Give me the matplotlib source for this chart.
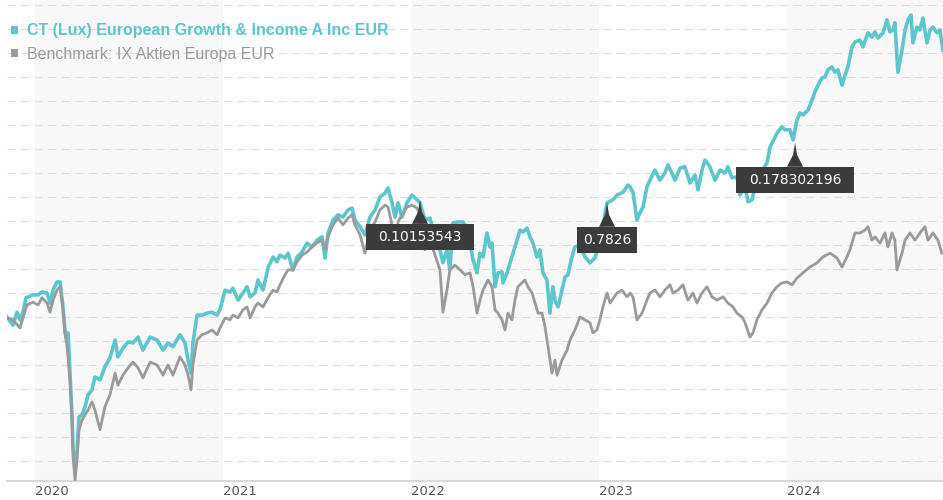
import matplotlib
matplotlib.use("Agg")
import matplotlib.pyplot as plt
import matplotlib.transforms as mtransforms
from matplotlib.patches import Rectangle, Polygon

# Fund vs benchmark, indexed (start = 100), decimal years on x
fund_years = [
    2019.851, 2019.883, 2019.904, 2019.920, 2019.936, 2019.952, 2019.989, 2020.016, 2020.037, 2020.064,
    2020.080, 2020.096, 2020.117, 2020.133, 2020.149, 2020.160, 2020.170, 2020.176, 2020.186, 2020.197,
    2020.202, 2020.213, 2020.223, 2020.234, 2020.250, 2020.266, 2020.282, 2020.303, 2020.319, 2020.346,
    2020.372, 2020.399, 2020.426, 2020.441, 2020.468, 2020.495, 2020.521, 2020.548, 2020.574,
    2020.612, 2020.649, 2020.681, 2020.707, 2020.734, 2020.771, 2020.798, 2020.814, 2020.830, 2020.840,
    2020.862, 2020.888, 2020.915, 2020.941, 2020.968, 2020.984, 2021.011, 2021.037, 2021.053, 2021.080,
    2021.106, 2021.128, 2021.144, 2021.170, 2021.186, 2021.213, 2021.239, 2021.266, 2021.287, 2021.303,
    2021.330, 2021.346, 2021.372, 2021.394, 2021.420, 2021.447, 2021.473,
    2021.500, 2021.527, 2021.543, 2021.559, 2021.585, 2021.612, 2021.638, 2021.665, 2021.686, 2021.702,
    2021.729, 2021.755, 2021.782, 2021.809, 2021.835, 2021.862, 2021.878, 2021.899, 2021.915, 2021.931,
    2021.952, 2021.979, 2022.005, 2022.032, 2022.048, 2022.074, 2022.101, 2022.128, 2022.154, 2022.170,
    2022.191, 2022.207, 2022.223, 2022.250, 2022.277, 2022.303,
    2022.330, 2022.351, 2022.367, 2022.383, 2022.404, 2022.420, 2022.431, 2022.447, 2022.463, 2022.484,
    2022.489, 2022.511, 2022.527, 2022.543, 2022.564, 2022.580, 2022.596, 2022.617, 2022.633, 2022.649,
    2022.670, 2022.686, 2022.702, 2022.723, 2022.739, 2022.755, 2022.766, 2022.782, 2022.803, 2022.819,
    2022.835, 2022.856, 2022.872, 2022.899, 2022.926, 2022.952, 2022.979, 2023.005, 2023.021, 2023.043,
    2023.074, 2023.096, 2023.128, 2023.154,
    2023.165, 2023.181, 2023.202, 2023.218, 2023.234, 2023.255, 2023.271, 2023.298, 2023.324, 2023.351,
    2023.367, 2023.388, 2023.404, 2023.431, 2023.457, 2023.484, 2023.511, 2023.527, 2023.548, 2023.564,
    2023.590, 2023.617, 2023.644, 2023.670, 2023.686, 2023.707, 2023.734, 2023.750, 2023.777, 2023.793,
    2023.814, 2023.830, 2023.856, 2023.894, 2023.910, 2023.947, 2023.973, 2023.989, 2024.016,
    2024.032, 2024.053, 2024.069, 2024.085, 2024.112, 2024.133, 2024.149, 2024.165, 2024.186, 2024.202,
    2024.218, 2024.239, 2024.255, 2024.271, 2024.293, 2024.309, 2024.324, 2024.346, 2024.362, 2024.388,
    2024.404, 2024.431, 2024.452, 2024.468, 2024.484, 2024.511, 2024.532, 2024.548, 2024.564, 2024.574,
    2024.590, 2024.612, 2024.628, 2024.644, 2024.660, 2024.670, 2024.691, 2024.707, 2024.723, 2024.745,
    2024.761, 2024.777, 2024.798, 2024.814, 2024.830,
]
fund_values = [
    100.0, 98.3, 101.0, 99.4, 101.0, 104.0, 104.6, 104.6, 105.2, 105.0,
    102.9, 105.6, 107.3, 107.3, 102.1, 96.9, 95.2, 96.7, 88.3, 79.2,
    72.9, 67.5, 71.7, 79.2, 79.6, 81.3, 83.8, 84.8, 87.5, 86.9,
    89.6, 91.5, 95.2, 91.7, 93.5, 94.8, 94.6, 95.8, 93.1,
    95.8, 95.2, 93.1, 94.6, 93.8, 96.3, 94.6, 91.0, 88.3, 94.6,
    100.4, 100.4, 100.8, 101.0, 100.4, 101.5, 105.6, 105.2, 106.0, 103.5,
    105.0, 106.3, 104.2, 105.0, 107.7, 105.6, 110.2, 112.5, 111.5, 112.9,
    112.3, 113.3, 109.8, 112.5, 113.5, 115.4, 114.6,
    116.0, 116.7, 112.3, 117.5, 120.2, 121.3, 120.8, 122.3, 122.7, 120.2,
    118.8, 117.1, 120.8, 122.3, 125.0, 125.8, 126.9, 123.8, 120.8, 123.8,
    120.8, 123.8, 125.4, 124.4, 123.8, 120.2, 120.6, 116.7, 114.0, 111.3,
    114.0, 109.8, 119.6, 119.8, 119.8, 118.1,
    111.9, 109.2, 113.3, 112.5, 117.5, 114.6, 115.4, 106.3, 109.2, 109.4,
    107.1, 109.2, 111.3, 113.3, 116.0, 118.1, 117.7, 118.5, 116.7, 115.4,
    112.5, 114.0, 109.2, 107.7, 100.8, 106.3, 103.5, 102.1, 105.6, 108.3,
    108.8, 112.5, 114.6, 115.0, 112.5, 111.3, 112.3, 116.0, 119.2, 123.8,
    124.4, 125.4, 126.0, 127.5,
    127.1, 126.0, 120.2, 121.7, 122.9, 127.1, 128.5, 130.6, 128.5, 130.0,
    131.7, 130.0, 128.5, 131.0, 131.3, 127.9, 129.6, 126.5, 130.6, 132.7,
    131.3, 128.5, 130.6, 130.0, 131.3, 129.0, 129.2, 125.4, 127.1, 124.0,
    124.4, 127.1, 129.6, 132.1, 135.4, 138.3, 139.6, 139.0, 139.0,
    136.9, 141.0, 142.5, 142.1, 143.1, 145.2, 146.9, 148.3, 149.8, 150.0,
    151.5, 152.1, 151.0, 151.5, 148.3, 150.4, 152.1, 156.3, 157.3, 157.7,
    156.3, 159.2, 158.3, 159.4, 158.1, 159.2, 161.9, 159.4, 159.8, 161.3,
    151.0, 155.6, 159.8, 161.9, 162.9, 157.1, 160.4, 159.8, 162.3, 157.1,
    159.8, 160.4, 159.2, 159.8, 155.6,
]

bench_years = [
    2019.851, 2019.883, 2019.920, 2019.936, 2019.957, 2019.989, 2020.016, 2020.037, 2020.064, 2020.080,
    2020.096, 2020.117, 2020.133, 2020.149, 2020.160, 2020.170, 2020.186, 2020.197, 2020.202, 2020.213,
    2020.223, 2020.234, 2020.250, 2020.266, 2020.282, 2020.303, 2020.319, 2020.346, 2020.372, 2020.399,
    2020.426, 2020.441, 2020.468, 2020.495, 2020.521, 2020.548, 2020.574,
    2020.612, 2020.649, 2020.681, 2020.707, 2020.734, 2020.771, 2020.798, 2020.814, 2020.830, 2020.840,
    2020.862, 2020.888, 2020.915, 2020.941, 2020.968, 2020.984, 2021.011, 2021.037, 2021.053, 2021.080,
    2021.106, 2021.128, 2021.144, 2021.170, 2021.186, 2021.213, 2021.239, 2021.266, 2021.287, 2021.303,
    2021.330, 2021.346, 2021.372, 2021.394, 2021.420, 2021.447, 2021.473,
    2021.500, 2021.527, 2021.543, 2021.559, 2021.585, 2021.612, 2021.638, 2021.665, 2021.686, 2021.702,
    2021.729, 2021.755, 2021.782, 2021.809, 2021.835, 2021.862, 2021.878, 2021.899, 2021.915, 2021.931,
    2021.952, 2021.979, 2022.005, 2022.032, 2022.048, 2022.074, 2022.101, 2022.128, 2022.154, 2022.170,
    2022.191, 2022.207, 2022.234, 2022.261, 2022.287,
    2022.314, 2022.330, 2022.351, 2022.367, 2022.383, 2022.410, 2022.431, 2022.447, 2022.463, 2022.484,
    2022.500, 2022.516, 2022.537, 2022.553, 2022.569, 2022.590, 2022.606, 2022.622, 2022.644, 2022.660,
    2022.676, 2022.697, 2022.713, 2022.729, 2022.750, 2022.766, 2022.777, 2022.803, 2022.830, 2022.846,
    2022.872, 2022.899, 2022.926, 2022.952, 2022.968, 2022.989, 2023.005, 2023.021, 2023.043, 2023.059,
    2023.096, 2023.122, 2023.149,
    2023.165, 2023.181, 2023.202, 2023.229, 2023.255, 2023.271, 2023.298, 2023.324, 2023.351, 2023.378,
    2023.394, 2023.420, 2023.447, 2023.473, 2023.500, 2023.521, 2023.548, 2023.574, 2023.601, 2023.628,
    2023.660, 2023.686, 2023.713, 2023.734, 2023.761, 2023.777, 2023.803, 2023.819, 2023.840, 2023.867,
    2023.894, 2023.920, 2023.947, 2023.973, 2024.000,
    2024.027, 2024.053, 2024.085, 2024.122, 2024.160, 2024.191, 2024.229, 2024.266, 2024.293, 2024.319,
    2024.335, 2024.362, 2024.388, 2024.415, 2024.431, 2024.452, 2024.468, 2024.495, 2024.521, 2024.537,
    2024.559, 2024.574, 2024.585, 2024.612, 2024.628, 2024.654, 2024.681, 2024.707, 2024.734, 2024.750,
    2024.777, 2024.803, 2024.824,
]
bench_values = [
    99.8, 99.4, 97.7, 99.8, 102.5, 103.1, 102.5, 104.0, 102.9, 101.0,
    103.5, 105.6, 106.3, 101.5, 96.3, 94.2, 86.9, 78.5, 71.3, 66.0,
    70.2, 76.5, 78.5, 79.6, 80.6, 82.3, 80.6, 76.5, 81.3, 83.8,
    88.3, 85.8, 87.9, 89.4, 90.6, 89.4, 87.3,
    90.6, 90.0, 87.9, 90.0, 87.9, 91.7, 90.0, 87.9, 84.8, 90.0,
    95.2, 96.3, 96.7, 97.3, 96.3, 97.7, 99.8, 99.4, 100.4, 99.8,
    101.5, 102.1, 99.8, 102.1, 102.9, 102.1, 104.0, 105.6, 105.2, 106.7,
    108.8, 109.8, 109.8, 111.5, 112.9, 113.5, 114.6,
    115.4, 116.0, 114.0, 116.7, 119.2, 120.6, 119.2, 120.6, 121.3, 119.2,
    117.1, 113.3, 118.1, 119.8, 122.3, 123.3, 122.9, 119.2, 115.0, 119.8,
    121.3, 122.9, 123.3, 122.7, 121.3, 114.0, 116.0, 112.9, 109.8, 101.0,
    105.6, 109.8, 110.8, 109.8, 108.8,
    109.2, 106.3, 100.8, 103.5, 105.6, 107.7, 106.3, 101.5, 100.8, 99.4,
    97.3, 100.8, 99.4, 103.5, 106.3, 107.1, 107.7, 106.3, 105.0, 102.9,
    100.8, 100.8, 97.9, 93.8, 88.3, 91.0, 87.9, 91.0, 93.1, 95.2,
    97.3, 100.0, 99.4, 98.8, 96.7, 97.3, 99.4, 102.1, 105.0, 102.9,
    105.0, 105.6, 104.2,
    105.0, 104.2, 99.4, 100.8, 103.5, 105.0, 105.6, 104.2, 105.6, 106.7,
    105.0, 105.6, 106.7, 103.5, 105.0, 102.9, 105.0, 106.3, 104.2, 103.5,
    104.2, 102.9, 102.1, 100.8, 100.0, 98.8, 95.8, 96.7, 99.4, 101.5,
    102.9, 105.0, 106.3, 107.1, 107.3,
    106.7, 108.1, 109.2, 110.4, 111.3, 112.5, 113.3, 112.3, 110.4, 112.5,
    114.0, 117.5, 117.5, 118.1, 118.8, 116.0, 116.7, 115.4, 117.5, 114.6,
    117.5, 116.0, 109.8, 113.3, 116.0, 117.5, 116.0, 117.5, 118.8, 116.0,
    117.5, 116.0, 113.3,
]

# flag labels pinned to the fund line
flag_years = [2022.048, 2023.043, 2024.043]
flag_values = [124.4, 123.8, 136.3]
flag_labels = ["0.10153543", "0.7826", "0.178302196"]

year_ticks = [2020, 2021, 2022, 2023, 2024]
shaded_years = [2020, 2022, 2024]

fund_name = "CT (Lux) European Growth & Income A Inc EUR"
bench_name = "Benchmark: IX Aktien Europa EUR"

teal = "#5cc6cd"
grey = "#9a9a9a"
flag_bg = "#3b3b3b"

fig = plt.figure(figsize=(9.43, 5.0), dpi=100)
ax = fig.add_axes([7 / 943, 19 / 500, 936 / 943, 481 / 500])

ax.set_xlim(2019.851, 2024.830)
ax.set_ylim(65.83, 166.04)

# alternating year bands
for yr in shaded_years:
    ax.axvspan(yr, yr + 1, color="#f8f8f8", lw=0, zorder=0)

ax.plot(fund_years, fund_values, color=teal, lw=2.6, zorder=3, solid_joinstyle="round")
ax.plot(bench_years, bench_values, color=grey, lw=2.0, zorder=4, solid_joinstyle="round")

# dashed horizontal grid, no y labels
ax.set_yticks(list(range(70, 170, 5)))
ax.yaxis.set_tick_params(length=0, labelleft=False)
ax.grid(axis="y", color="#dcdcdc", lw=0.75, linestyle=(0, (8, 5)))
ax.set_axisbelow(True)

ax.set_xticks(year_ticks)
ax.set_xticklabels([str(y) for y in year_ticks], ha="left")
ax.tick_params(axis="x", length=0, pad=3, labelsize=9.5, labelcolor="#555555")

for side in ["top", "left", "right"]:
    ax.spines[side].set_visible(False)
ax.spines["bottom"].set_color("#d9d9d9")
ax.spines["bottom"].set_linewidth(1.5)


def add_flag(x, y, label, width):
    # shapes drawn in pixels relative to the data point
    at_point = mtransforms.IdentityTransform() + mtransforms.ScaledTranslation(x, y, ax.transData)
    spike = Polygon([(0, 0), (-2, -12), (-8, -24), (8, -24), (2, -12)], closed=True,
                    transform=at_point, fc=flag_bg, ec="none", zorder=6)
    box = Rectangle((-width / 2, -50), width, 26, transform=at_point,
                    fc=flag_bg, ec="none", zorder=6)
    ax.add_artist(spike)
    ax.add_artist(box)
    ax.text(0, -37, label, transform=at_point, ha="center", va="center",
            color="white", fontsize=10, zorder=7)


flag_widths = [108, 60, 118]
for x, y, lab, w in zip(flag_years, flag_values, flag_labels, flag_widths):
    add_flag(x, y, lab, w)

# legend, top left
fig.add_artist(Rectangle((11 / 943, 1 - 33.5 / 500), 7 / 943, 7 / 500,
                         transform=fig.transFigure, fc=teal, ec="none"))
fig.add_artist(Rectangle((11 / 943, 1 - 56.5 / 500), 7 / 943, 7 / 500,
                         transform=fig.transFigure, fc=grey, ec="none"))
fig.text(27 / 943, 1 - 35 / 500, fund_name, color=teal, fontsize=11.5,
         fontweight="bold", family="Liberation Sans", va="baseline")
fig.text(27 / 943, 1 - 59 / 500, bench_name, color=grey, fontsize=11.5,
         family="Liberation Sans", va="baseline")

fig.savefig("out.png", dpi=100)
